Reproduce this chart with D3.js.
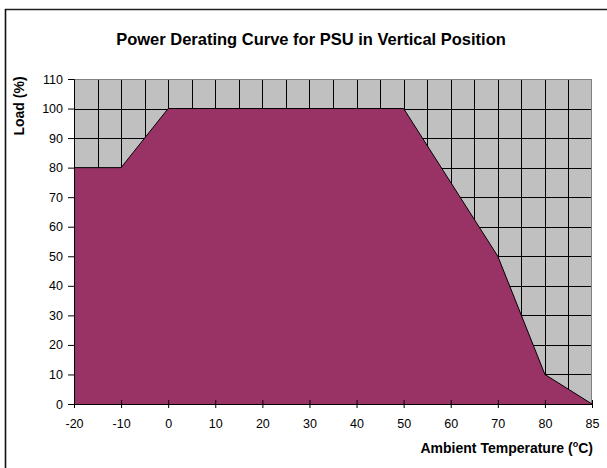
<!DOCTYPE html>
<html>
<head>
<meta charset="utf-8">
<script src="https://cdn.jsdelivr.net/npm/d3@7"></script>
<style>
  html, body { margin: 0; padding: 0; background: #fff; }
  svg { display: block; font-family: Arial, "Liberation Sans", sans-serif; }
</style>
</head>
<body>
<svg id="chart" width="607" height="468"></svg>
<script>
// ---- data ----
const categories = ["-20", "-10", "0", "10", "20", "30", "40", "50", "60", "70", "80", "85"];
const loadValues = [80, 80, 100, 100, 100, 100, 100, 100, 75, 50, 10, 0];
const yTicks = [0, 10, 20, 30, 40, 50, 60, 70, 80, 90, 100, 110];
const titleText = "Power Derating Curve for PSU in Vertical Position";
const yTitle = "Load (%)";

(function () {
const svg = d3.select("#chart");

// outer chart frame (extends beyond the picture on right/bottom)
svg.append("line").attr("x1", 5).attr("y1", 9.5).attr("x2", 607).attr("y2", 9.5)
  .attr("stroke", "#222").attr("stroke-width", 1.6);
svg.append("line").attr("x1", 5.5).attr("y1", 9).attr("x2", 5.5).attr("y2", 468)
  .attr("stroke", "#111").attr("stroke-width", 1.6);

const pL = 74, pR = 592, pT = 79, pB = 404;

const x = d3.scalePoint().domain(categories).range([pL, pR]);
const y = d3.scaleLinear().domain([0, 110]).range([pB, pT]);

// plot background
svg.append("rect").attr("x", pL).attr("y", pT)
  .attr("width", pR - pL).attr("height", pB - pT)
  .attr("fill", "#c0c0c0");

// vertical gridlines: at categories and midpoints
const vPos = [];
categories.forEach((c, i) => {
  vPos.push(x(c));
  if (i < categories.length - 1) vPos.push((x(c) + x(categories[i + 1])) / 2);
});
svg.append("g").selectAll("line").data(vPos.filter(p => p > pL + 1 && p < pR - 1))
  .join("line")
  .attr("x1", d => Math.round(d) + 0.5).attr("x2", d => Math.round(d) + 0.5)
  .attr("y1", pT).attr("y2", pB)
  .attr("stroke", "#000").attr("stroke-width", 1);

// horizontal gridlines
svg.append("g").selectAll("line").data(yTicks.filter(v => v > 0 && v < 110))
  .join("line")
  .attr("x1", pL).attr("x2", pR)
  .attr("y1", d => Math.round(y(d)) + 0.5).attr("y2", d => Math.round(y(d)) + 0.5)
  .attr("stroke", "#000").attr("stroke-width", 1);

// plot border (gray)
svg.append("rect").attr("x", pL + 0.5).attr("y", pT + 0.5)
  .attr("width", pR - pL - 1).attr("height", pB - pT)
  .attr("fill", "none").attr("stroke", "#808080").attr("stroke-width", 1);

// area
const pts = categories.map((c, i) => ({ c, v: loadValues[i] }));
const area = d3.area().x(d => x(d.c)).y0(y(0)).y1(d => y(d.v));
svg.append("path").datum(pts).attr("d", area).attr("fill", "#993366");
const line = d3.line().x(d => x(d.c)).y(d => y(d.v));
svg.append("path").datum(pts).attr("d", line)
  .attr("fill", "none").attr("stroke", "#000").attr("stroke-width", 1);

// axes
const yAxis = d3.axisLeft(y).tickValues(yTicks).tickSize(6).tickPadding(5);
const gy = svg.append("g").attr("transform", `translate(${pL},0)`).call(yAxis);
gy.select(".domain").attr("stroke", "#000");
gy.selectAll(".tick line").attr("stroke", "#000");
gy.selectAll("text").attr("font-size", "12.5px").attr("fill", "#000")
  .attr("font-family", "Arial, 'Liberation Sans', sans-serif");

const xAxis = d3.axisBottom(x).tickSize(4).tickPadding(11.5);
const gx = svg.append("g").attr("transform", `translate(0,${pB})`).call(xAxis);
gx.select(".domain").attr("stroke", "#000");
gx.selectAll(".tick line").attr("stroke", "#000").attr("y1", -4).attr("y2", 4);
gx.selectAll("text").attr("font-size", "12.5px").attr("fill", "#000")
  .attr("font-family", "Arial, 'Liberation Sans', sans-serif");

// titles
svg.append("text").attr("x", 311).attr("y", 45).attr("text-anchor", "middle")
  .attr("font-size", "16.5px").attr("font-weight", "bold").attr("fill", "#000")
  .text(titleText);

svg.append("text").attr("transform", "translate(24,106) rotate(-90)")
  .attr("text-anchor", "middle").attr("font-size", "14px").attr("font-weight", "bold")
  .attr("fill", "#000").text(yTitle);

const xt = svg.append("text").attr("x", 593).attr("y", 453).attr("text-anchor", "end")
  .attr("font-size", "14px").attr("font-weight", "bold").attr("fill", "#000");
xt.append("tspan").text("Ambient Temperature (");
xt.append("tspan").attr("font-size", "9px").attr("dy", -6).text("o");
xt.append("tspan").attr("dy", 6).text("C)");
})();
</script>
</body>
</html>
